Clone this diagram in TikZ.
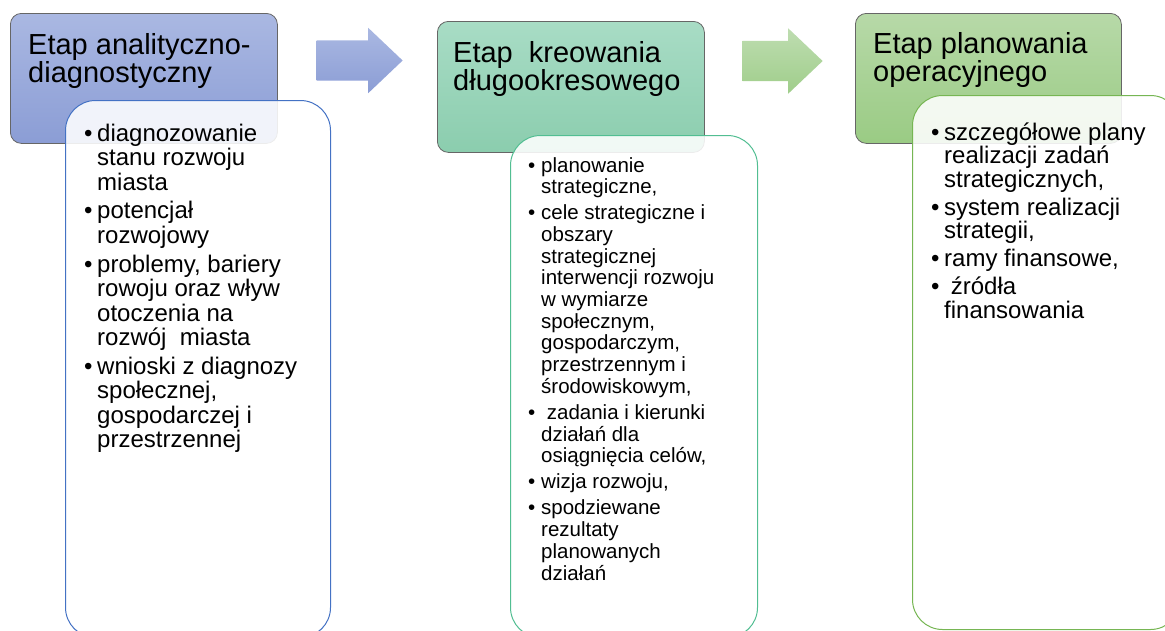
\documentclass[tikz,border=0pt]{standalone}
\usepackage{fontspec}
\setmainfont{Liberation Sans}
\usetikzlibrary{positioning,shapes.arrows}
\definecolor{gornyA}{HTML}{AAB8E2}
\definecolor{dolnyA}{HTML}{8B9DD5}
\definecolor{gornyB}{HTML}{A8DCC5}
\definecolor{dolnyB}{HTML}{8BCDAE}
\definecolor{gornyC}{HTML}{B7D9A8}
\definecolor{dolnyC}{HTML}{9ACB84}
\definecolor{ramkaA}{HTML}{4472C4}
\definecolor{ramkaB}{HTML}{52BE92}
\definecolor{ramkaC}{HTML}{76B653}
\newcommand{\pkt}{\par\noindent\hangindent=13pt\hangafter=1\makebox[13pt][l]{\textbullet}}
\newcommand{\lista}[2]{\vtop{\hsize=250pt\raggedright\parskip=#1\relax #2\par}}

\begin{document}
\begin{tikzpicture}[x=1pt,y=-1pt,
 naglowek/.style={draw=black!60,line width=.8pt,rounded corners=11pt,anchor=north west,inner sep=0pt,minimum width=267pt,minimum height=130pt},
 tytul/.style={anchor=north west,inner sep=0pt,align=left,font=\fontsize{29}{28.5}\selectfont},
 ramka/.style={line width=1pt,rounded corners=30pt,fill=white,fill opacity=.88,anchor=north west,inner sep=0pt},
 punkty/.style={inner sep=0pt},
 strzalka/.style={single arrow,single arrow head extend=12.5pt,single arrow tip angle=87,minimum width=65pt,inner sep=0pt,text height=20pt,text depth=20pt}]
\useasboundingbox (0,0) rectangle (1165,630);
\clip (0,0) rectangle (1165,630);

\node[naglowek,top color=gornyA,bottom color=dolnyA] (n1) at (10,13) {};
\node[naglowek,top color=gornyB,bottom color=dolnyB,minimum height=131pt] (n2) at (437,21) {};
\node[naglowek,top color=gornyC,bottom color=dolnyC,minimum width=266pt] (n3) at (855,13) {};

\node[tytul,below right=20pt and 18pt of n1.north west] (t1) {Etap analityczno-\\diagnostyczny};
\node[tytul,below right=20pt and 16pt of n2.north west] (t2) {Etap\ \ kreowania\\długookresowego};
\node[tytul,below right=19pt and 18pt of n3.north west] (t3) {Etap planowania\\operacyjnego};

\node[strzalka,top color=gornyA,bottom color=dolnyA,minimum height=86pt] (s1) at (349,60.5) {};
\node[strzalka,top color=gornyC!90!white,bottom color=dolnyC!95!white,minimum height=80pt] (s2) at (772,61) {};

\node[ramka,draw=ramkaA,minimum width=265pt,minimum height=537pt] (r1) at (65,100) {};
\node[ramka,draw=ramkaB,minimum width=247pt,minimum height=502pt] (r2) at (510,135) {};
\node[ramka,draw=ramkaC,minimum width=268pt,minimum height=534pt] (r3) at (912,95) {};

% listy
\node[punkty,below right=41pt and 19pt of r1.north west,anchor=base west,font=\fontsize{24}{24.5}\selectfont] (p1) {\lista{4.3pt}{%
\pkt diagnozowanie\newline stanu rozwoju\newline miasta
\pkt potencjał\newline rozwojowy
\pkt problemy, bariery\newline rowoju oraz wływ\newline otoczenia na\newline rozwój\ \ miasta
\pkt wnioski z diagnozy\newline społecznej,\newline gospodarczej i\newline przestrzennej}};

\node[punkty,below right=37pt and 18pt of r2.north west,anchor=base west,font=\fontsize{20.5}{21.7}\selectfont] (p2) {\lista{4.35pt}{%
\pkt planowanie\newline strategiczne,
\pkt cele strategiczne i\newline obszary\newline strategicznej\newline interwencji rozwoju\newline w wymiarze\newline społecznym,\newline gospodarczym,\newline przestrzennym i\newline środowiskowym,
\pkt\ zadania i kierunki\newline działań dla\newline osiągnięcia celów,
\pkt wizja rozwoju,
\pkt spodziewane\newline rezultaty\newline planowanych\newline działań}};

\node[punkty,below right=45pt and 19pt of r3.north west,anchor=base west,font=\fontsize{24}{23.6}\selectfont] (p3) {\lista{4.3pt}{%
\pkt szczegółowe plany\newline realizacji zadań\newline strategicznych,
\pkt system realizacji\newline strategii,
\pkt ramy finansowe,
\pkt\ źródła\newline finansowania}};
\end{tikzpicture}
\end{document}
